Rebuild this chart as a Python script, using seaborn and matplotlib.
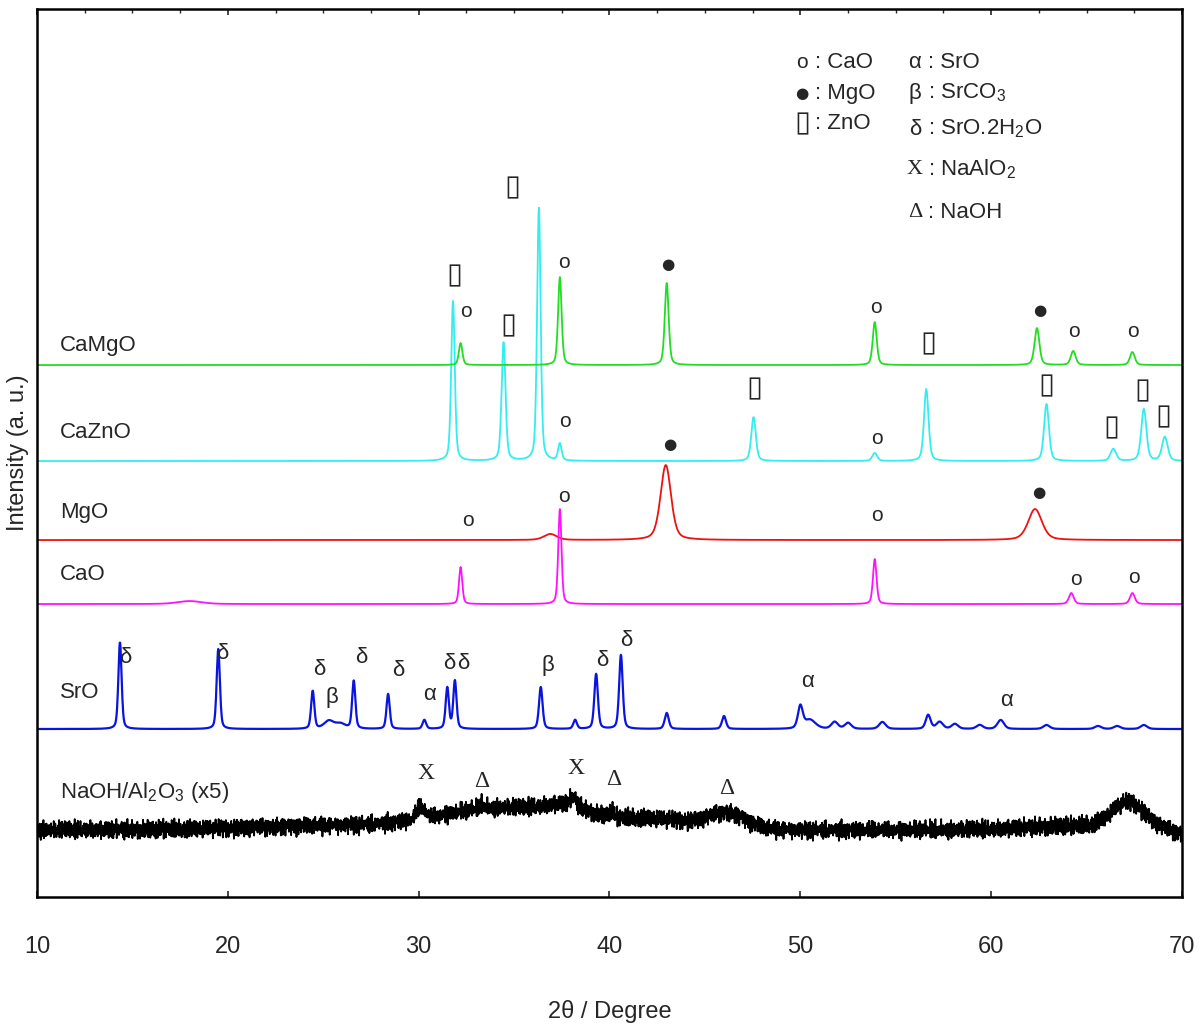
import numpy as np
import pandas as pd
import seaborn as sns
import matplotlib
matplotlib.use("Agg")
from matplotlib import pyplot as plt
from matplotlib.ticker import MultipleLocator

# peak lists: centre (2theta), height (a.u.), FWHM (deg)
camgo_pos = [32.2, 37.4, 43.0, 53.9, 62.4, 64.3, 67.4]
camgo_h = [22, 88, 82, 43, 37, 14, 13]
camgo_w = [0.22, 0.22, 0.24, 0.25, 0.3, 0.3, 0.3]

cazno_pos = [31.8, 34.45, 36.3, 37.4, 47.55, 53.9, 56.6, 62.9, 66.4, 68.0, 69.1]
cazno_h = [160, 119, 253, 17, 44, 8, 72, 57, 12, 52, 24]
cazno_w = [0.22, 0.24, 0.22, 0.22, 0.28, 0.3, 0.28, 0.3, 0.35, 0.32, 0.35]

mgo_pos = [36.9, 42.95, 62.3]
mgo_h = [6, 75, 31]
mgo_w = [0.8, 0.65, 0.85]

cao_pos = [18.0, 32.2, 37.4, 53.9, 64.2, 67.4]
cao_h = [3, 37, 95, 45, 11, 11]
cao_w = [1.5, 0.2, 0.2, 0.22, 0.3, 0.3]

sro_pos = [14.35, 19.5, 24.45, 25.3, 25.9, 26.6, 28.4, 30.3, 31.5, 31.9, 36.4, 38.2, 39.3,
           40.6, 43.0, 46.0, 50.0, 50.5, 51.8, 52.5, 54.3, 56.7, 57.3, 58.1, 59.4, 60.5,
           62.9, 65.6, 66.6, 68.0]
sro_h = [87, 80, 38, 8, 5, 48, 35, 9, 41, 48, 42, 9, 55, 74, 16, 13, 22, 9, 7, 6, 7,
         14, 7, 5, 4, 9, 4, 3, 3, 4]
sro_w = [0.2, 0.2, 0.2, 0.6, 0.6, 0.2, 0.2, 0.22, 0.2, 0.2, 0.22, 0.22, 0.22, 0.22,
         0.25, 0.25, 0.3, 0.7, 0.4, 0.4, 0.4, 0.3, 0.4, 0.4, 0.4, 0.4, 0.4, 0.4, 0.4, 0.4]

naoh_pos = [25.0, 30.1, 33.3, 34.5, 37.8, 38.1, 40.1, 42.5, 46.2, 64.5, 67.2, 70.5]
naoh_h = [4, 12, 4, 22, 10, 8, 6, 10, 14, 4, 26, -6]
naoh_w = [10.0, 0.5, 0.3, 8.0, 2.5, 0.4, 0.3, 6.0, 2.2, 6.0, 2.0, 1.5]
# hand-read scatter of the noisy NaOH/Al2O3 trace
noise_a = [0, 3, -2, 5, -4, 1, -3, 4, -1, 2, -5, 3, 0, -2, 4, -3, 1, 5, -4, 2, -1,
           -3, 3, 0, -5, 4, -2, 1, 3, -4, 2, -1, 5, -3, 0, 2, -4, 3, -2, 1, -1]
noise_b = [2, -1, 0, -3, 1, 3, -2, 0, 2, -1, -2, 1, 3, -3, 0, 1, -1, 2, -2, 0, 3,
           -1, 1, -3, 2, 0, -2, 1, -1]

names = ["CaMgO", "CaZnO", "MgO", "CaO", "SrO", "NaOH/Al$_{2}$O$_{3}$ (x5)"]
offsets = [663, 567, 488, 424, 299, 198]
colors = ["#22dd22", "#33eeee", "#ee1111", "#ff11ff", "#0a14e0", "black"]
label_y = [683, 596, 516, 454, 336, 236]

# peak annotations: (2theta, height, symbol)
marks = [
    (31.85, 753, "▯"), (32.5, 717, "o"), (34.7, 703, "▯"), (34.9, 841, "▯"),
    (37.62, 766, "o"), (43.07, 764, "●"), (53.97, 721, "o"), (56.7, 685, "▯"),
    (62.56, 718, "●"), (64.34, 697, "o"), (67.43, 697, "o"),
    (37.67, 607, "o"), (47.57, 640, "▯"), (43.17, 584, "●"), (54.02, 590, "o"),
    (62.87, 643, "▯"), (66.28, 601, "▯"), (67.91, 638, "▯"), (69.01, 612, "▯"),
    (32.59, 508, "o"), (37.62, 532, "o"), (54.02, 513, "o"), (62.51, 536, "●"),
    (64.45, 449, "o"), (67.49, 451, "o"),
]
greek = [
    (14.61, 371, "δ"), (19.69, 375, "δ"), (24.78, 359, "δ"), (25.46, 331, "β"),
    (26.98, 371, "δ"), (28.92, 358, "δ"), (30.59, 334, "α"), (31.59, 365, "δ"),
    (32.32, 365, "δ"), (36.78, 363, "β"), (39.61, 368, "δ"), (40.87, 388, "δ"),
    (50.4, 347, "α"), (60.83, 328, "α"),
]
serif_marks = [(30.38, 255, "X"), (33.32, 247, "Δ"), (38.25, 260, "X"),
               (40.24, 249, "Δ"), (46.16, 240, "Δ")]

legend_left = [("o", ": CaO", 966), ("●", ": MgO", 935), ("▯", ": ZnO", 905)]
legend_right = [("α", ": SrO", 966), ("β", ": SrCO$_{3}$", 935),
                ("δ", ": SrO.2H$_{2}$O", 899), ("X", ": NaAlO$_{2}$", 859),
                ("Δ", ": NaOH", 816)]


def profile(x, pos, h, w, eta=0.4):
    y = np.zeros_like(x)
    for c, a, fw in zip(pos, h, w):
        d = (x - c) / (fw / 2)
        y += a * (eta / (1 + d ** 2) + (1 - eta) * np.exp(-np.log(2) * d ** 2))
    return y


x = np.arange(10, 70.0001, 0.02)
noise = 1.6 * (np.resize(noise_a, len(x)) + np.resize(noise_b, len(x)) * 0.6)

curves = [
    profile(x, camgo_pos, camgo_h, camgo_w),
    profile(x, cazno_pos, cazno_h, cazno_w),
    profile(x, mgo_pos, mgo_h, mgo_w),
    profile(x, cao_pos, cao_h, cao_w),
    profile(x, sro_pos, sro_h, sro_w),
    profile(x, naoh_pos, naoh_h, naoh_w, eta=0.0) + noise,
]

frames = []
for name, off, c in zip(names, offsets, curves):
    frames.append(pd.DataFrame({"2theta": x, "I": c + off, "sample": name}))
df = pd.concat(frames, ignore_index=True)

sns.set_style("white")
plt.rcParams["font.family"] = ["Liberation Sans", "DejaVu Sans"]
plt.rcParams["mathtext.default"] = "regular"

fig = plt.figure(figsize=(12, 10.28), dpi=100)
ax = fig.add_axes([0.0308, 0.1274, 0.9542, 0.8638])

# draw back to front so the upper traces sit on top
order = ["NaOH/Al$_{2}$O$_{3}$ (x5)", "SrO", "MgO", "CaO", "CaZnO", "CaMgO"]
for name in order:
    sub = df[df["sample"] == name]
    lw = 1.6 if name == "SrO" else 1.3
    sns.lineplot(data=sub, x="2theta", y="I", color=colors[names.index(name)],
                 lw=lw, estimator=None, sort=False, ax=ax, legend=False)

fs = 16
for name, ly in zip(names, label_y):
    ax.text(11.2, ly, name, fontsize=fs, ha="left", va="center")

for px, py, s in marks:
    if s == "●":
        ax.text(px, py, s, fontsize=11, ha="center", va="center",
                family=["DejaVu Sans"])
    elif s == "o":
        ax.text(px, py, s, fontsize=15, ha="center", va="center")
    else:
        ax.text(px, py, s, fontsize=21, ha="center", va="center",
                family=["DejaVu Sans"])
for px, py, s in greek:
    ax.text(px, py, s, fontsize=fs, ha="center", va="center")
for px, py, s in serif_marks:
    ax.text(px, py, s, fontsize=17, ha="center", va="center",
            family=["Liberation Serif"])

for sym, lab, ly in legend_left:
    if sym == "●":
        ax.text(50.1, ly, sym, fontsize=11, ha="center", va="center",
                family=["DejaVu Sans"])
    elif sym == "▯":
        ax.text(50.1, ly, sym, fontsize=21, ha="center", va="center",
                family=["DejaVu Sans"])
    else:
        ax.text(50.1, ly, sym, fontsize=15, ha="center", va="center")
    ax.text(50.75, ly, lab, fontsize=fs, ha="left", va="center")
for sym, lab, ly in legend_right:
    sfam = ["Liberation Serif"] if sym in "XΔ" else ["Liberation Sans"]
    ax.text(56.0, ly, sym, fontsize=fs, ha="center", va="center", family=sfam)
    ax.text(56.69, ly, lab, fontsize=fs, ha="left", va="center")

ax.set_xlim(10, 70)
ax.set_ylim(131, 1019)
ax.set_yticks([])
ax.xaxis.set_major_locator(MultipleLocator(10))
ax.xaxis.set_minor_locator(MultipleLocator(2.5))
ax.tick_params(axis="x", which="major", direction="in", length=4, width=1.2,
               top=True, bottom=True, labelsize=17, pad=28)
ax.tick_params(axis="x", which="minor", direction="in", length=3, width=1,
               top=True, bottom=False)
for sp in ax.spines.values():
    sp.set_linewidth(1.8)
    sp.set_color("black")

ax.set_xlabel("2θ / Degree", fontsize=17, labelpad=30)
ax.set_ylabel("Intensity (a. u.)", fontsize=17, labelpad=6)

fig.savefig("out.png", dpi=100)
